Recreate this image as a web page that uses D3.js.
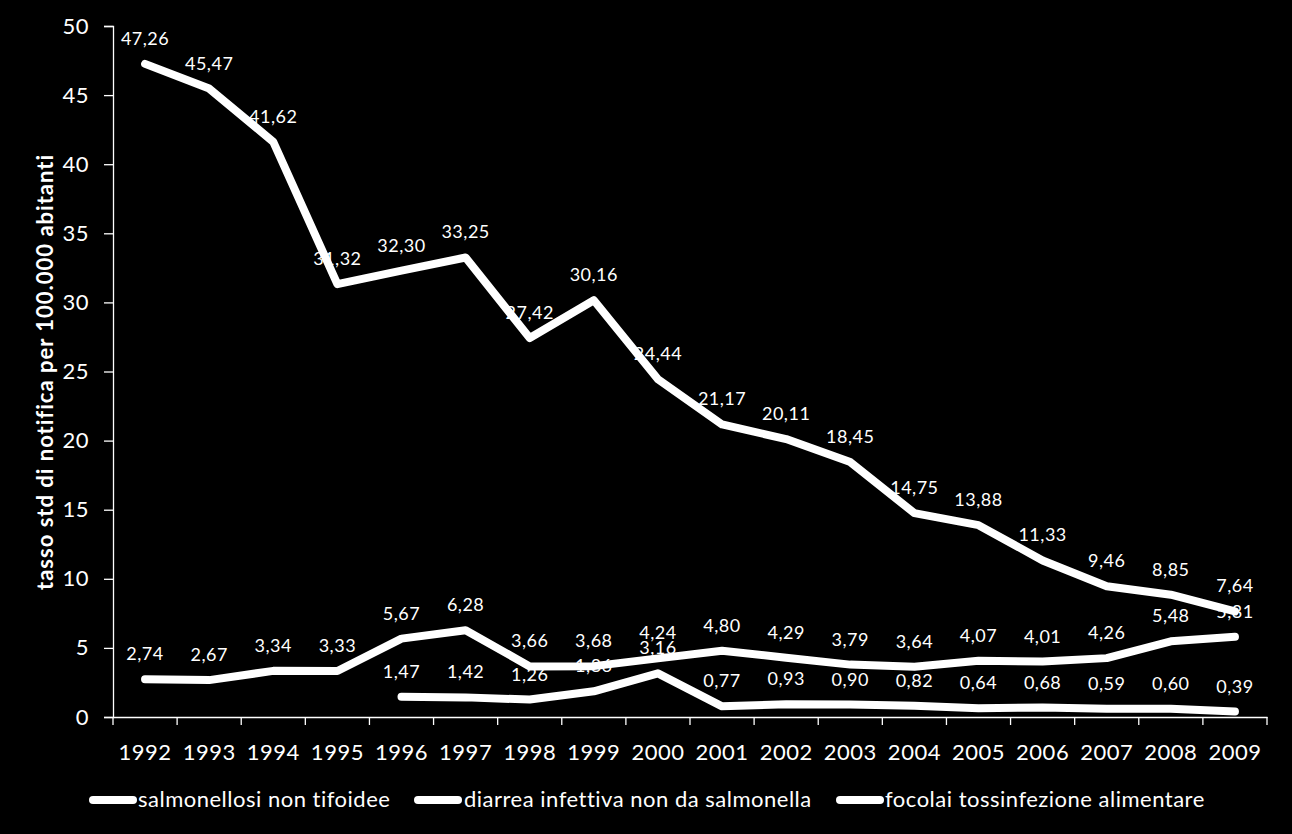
<!DOCTYPE html>
<html><head><meta charset="utf-8">
<script src="https://cdn.jsdelivr.net/npm/d3@7"></script>
<style>html,body{margin:0;padding:0;background:#000;}svg{display:block;}</style>
</head><body>
<script>
const years = ["1992","1993","1994","1995","1996","1997","1998","1999","2000","2001","2002","2003","2004","2005","2006","2007","2008","2009"];
const salmonellosi = [47.26,45.47,41.62,31.32,32.30,33.25,27.42,30.16,24.44,21.17,20.11,18.45,14.75,13.88,11.33,9.46,8.85,7.64];
const diarrea = [2.74,2.67,3.34,3.33,5.67,6.28,3.66,3.68,4.24,4.80,4.29,3.79,3.64,4.07,4.01,4.26,5.48,5.81];
const focolai = [null,null,null,null,1.47,1.42,1.26,1.86,3.16,0.77,0.93,0.90,0.82,0.64,0.68,0.59,0.60,0.39];
const seriesNames = ["salmonellosi non tifoidee","diarrea infettiva non da salmonella","focolai tossinfezione alimentare"];
const yTicks = [0,5,10,15,20,25,30,35,40,45,50];
const yTitle = "tasso std di notifica per 100.000 abitanti";

const W = 1292, H = 834;
const font = "Lato, 'Open Sans', sans-serif";
const svg = d3.select("body").append("svg").attr("width", W).attr("height", H).style("background", "#000");

const x = d3.scaleBand().domain(years).range([113, 1267]);
const y = d3.scaleLinear().domain([0, 50]).range([717, 26]);

// axes
const xAxis = svg.append("g").attr("transform", "translate(0,717)")
  .call(d3.axisBottom(x).tickSize(0).tickPadding(27));
xAxis.select(".domain").attr("stroke", "#fff").attr("stroke-width", 1.3);
xAxis.selectAll("text").attr("fill", "#fff").attr("font-family", font).attr("font-size", 22).attr("letter-spacing", 0.5);
// boundary tick marks
const bounds = years.map(d => x(d)).concat([x.range()[1]]);
svg.append("g").selectAll("line").data(bounds).join("line")
  .attr("x1", d => d).attr("x2", d => d).attr("y1", 717).attr("y2", 725)
  .attr("stroke", "#fff").attr("stroke-width", 1.3);

const yAxis = svg.append("g").attr("transform", "translate(113,0)")
  .call(d3.axisLeft(y).tickValues(yTicks).tickSize(9).tickPadding(15));
yAxis.select(".domain").attr("stroke", "#fff").attr("stroke-width", 1.3);
yAxis.selectAll(".tick line").attr("stroke", "#fff").attr("stroke-width", 1.3);
yAxis.selectAll("text").attr("fill", "#fff").attr("font-family", font).attr("font-size", 22).attr("letter-spacing", 0.5);

svg.append("text").attr("transform", "translate(53,372) rotate(-90)")
  .attr("text-anchor", "middle").attr("fill", "#fff").attr("font-family", font)
  .attr("font-weight", "bold").attr("font-size", 22).attr("letter-spacing", 1).text(yTitle);

const all = [salmonellosi, diarrea, focolai];
const cx = i => x(years[i]) + x.bandwidth() / 2;
const fmt = v => v.toFixed(2).replace(".", ",");

// labels (drawn under lines)
all.forEach(s => {
  svg.append("g").selectAll("text").data(s.map((v, i) => ({v, i})).filter(d => d.v !== null)).join("text")
    .attr("x", d => cx(d.i)).attr("y", d => y(d.v) - 19)
    .attr("text-anchor", "middle").attr("fill", "#fff").attr("font-family", font)
    .attr("font-size", 18).attr("letter-spacing", 0.5).text(d => fmt(d.v));
});

const line = d3.line().defined(d => d.v !== null).x(d => cx(d.i)).y(d => y(d.v));
all.forEach(s => {
  svg.append("path").datum(s.map((v, i) => ({v, i})))
    .attr("d", line).attr("fill", "none").attr("stroke", "#fff")
    .attr("stroke-width", 8).attr("stroke-linecap", "round").attr("stroke-linejoin", "round");
});

// legend
const legX = [[93, 133, 138], [418, 458, 464], [840, 880, 885]];
seriesNames.forEach((n, k) => {
  const [a, b, t] = legX[k];
  svg.append("line").attr("x1", a).attr("x2", b).attr("y1", 800).attr("y2", 800)
    .attr("stroke", "#fff").attr("stroke-width", 8).attr("stroke-linecap", "round");
  svg.append("text").attr("x", t).attr("y", 807).attr("fill", "#fff")
    .attr("font-family", font).attr("font-size", 22).attr("letter-spacing", 0.5).text(n);
});
</script>
</body></html>
